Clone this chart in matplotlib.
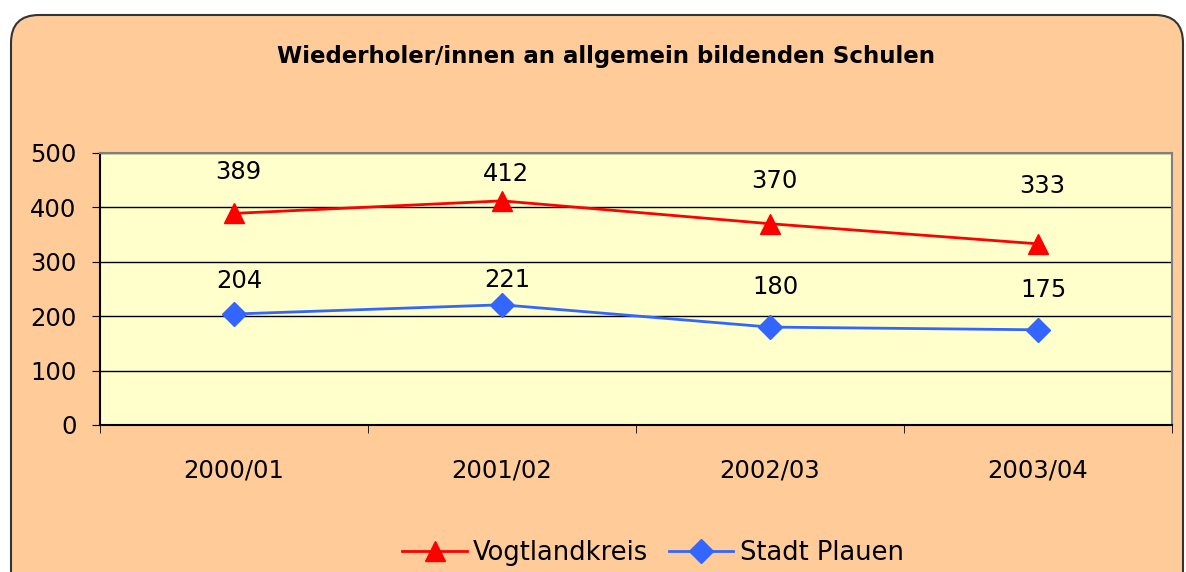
import numpy as np
import matplotlib.pyplot as plt
from matplotlib.patches import FancyBboxPatch
from matplotlib.transforms import IdentityTransform

# data
years = ["2000/01", "2001/02", "2002/03", "2003/04"]
vogtland = [389, 412, 370, 333]
plauen = [204, 221, 180, 175]

# label lift above each point (points), as placed in the original chart
vogtland_dy = [30, 19, 31, 42]
plauen_dy = [24, 18, 29, 29]

title = "Wiederholer/innen an allgemein bildenden Schulen"
font_size = 17.5

fig = plt.figure(figsize=(11.86, 5.72), dpi=100)
fig.patch.set_facecolor("white")

# rounded orange background frame (pixel coordinates)
frame = FancyBboxPatch((11, -30), 1172, 587,
                       boxstyle="round,pad=0,rounding_size=28",
                       transform=IdentityTransform(),
                       facecolor="#FFCC99", edgecolor="#333333", lw=1.5,
                       zorder=-5)
fig.patches.append(frame)

ax = fig.add_axes([100 / 1186, 147 / 572, 1072 / 1186, 272 / 572])
ax.set_zorder(2)
ax.set_facecolor("#FFFFCC")

x = np.arange(len(years))
ax.plot(x, vogtland, color="#FF0000", lw=2, marker="^", ms=14,
        mec="#FF0000", mfc="#FF0000", label="Vogtlandkreis", zorder=3)
ax.plot(x, plauen, color="#3366FF", lw=2, marker="D", ms=12,
        mec="#3366FF", mfc="#3366FF", label="Stadt Plauen", zorder=3)

for xi, v, dy in zip(x, vogtland, vogtland_dy):
    ax.annotate(str(v), (xi, v), xytext=(3, dy), textcoords="offset points",
                ha="center", va="center", fontsize=font_size)
for xi, v, dy in zip(x, plauen, plauen_dy):
    ax.annotate(str(v), (xi, v), xytext=(4, dy), textcoords="offset points",
                ha="center", va="center", fontsize=font_size)

ax.set_xlim(-0.5, len(years) - 0.5)
ax.set_ylim(0, 500)
ax.set_yticks(np.arange(0, 501, 100))
ax.yaxis.grid(True, color="black", lw=1)
ax.set_axisbelow(True)

ax.set_xticks(x)
ax.set_xticklabels(years, fontsize=font_size)
ax.set_xticks(np.arange(-0.5, len(years), 1), minor=True)
ax.tick_params(axis="x", which="major", length=0, pad=24)
ax.tick_params(axis="x", which="minor", length=6, direction="out", color="black")
ax.tick_params(axis="y", length=6, direction="out", pad=11, labelsize=font_size)

ax.spines["left"].set_color("black")
ax.spines["bottom"].set_color("black")
ax.spines["top"].set_color("#808080")
ax.spines["right"].set_color("#808080")
for s in ax.spines.values():
    s.set_linewidth(1.5)

fig.text(606 / 1186, 1 - 57 / 572, title, ha="center", va="center",
         fontsize=16.5, fontweight="bold")

fig.legend(loc="center", bbox_to_anchor=(653 / 1186, 19 / 572), ncol=2,
           frameon=False, fontsize=18.5, handlelength=2.5,
           columnspacing=0.8, handletextpad=0.25)

plt.savefig("out.png", dpi=100)
